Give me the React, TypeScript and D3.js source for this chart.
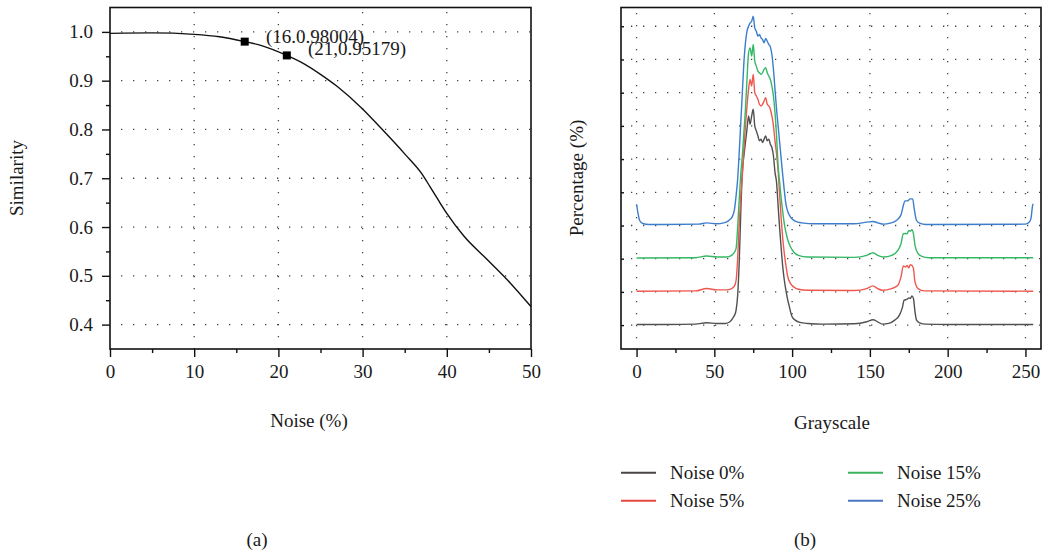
import React, { useEffect, useRef } from 'react'
import * as d3 from 'd3'

// (a) similarity vs noise
const noiseLevels = [0, 5, 10, 13, 16, 18, 21, 23, 25, 27, 30, 32, 35, 37, 38, 39, 40, 42, 45, 47.5, 50]
const similarity = [0.997, 0.998, 0.995, 0.99, 0.98004, 0.972, 0.95179, 0.935, 0.913, 0.888, 0.842, 0.806, 0.75, 0.71, 0.683, 0.655, 0.628, 0.582, 0.53, 0.486, 0.437]
const markedNoise = [16, 21]
const markedSim = [0.98004, 0.95179]
const markLabels = ['(16.0.98004)', '(21,0.95179)']

// (b) grayscale histograms, each stacked one tick above the previous
const seriesNames = ['Noise 0%', 'Noise 5%', 'Noise 15%', 'Noise 25%']
const seriesColors = ['#505050', '#f0584e', '#34b866', '#3c7dcc']
const legendColors = ['#4a4547', '#e5473f', '#3bb35c', '#4a77c0']
const seriesOffsets = [0, 1, 2, 3]

const noise0: [number, number][] = [
  [0, 0.02], [20, 0.02], [38, 0.03], [45, 0.07], [52, 0.05], [57, 0.05], [60, 0.1], [62, 0.22], [63, 0.3], [64, 0.45],
  [65, 0.9], [66, 1.9], [67, 3.4], [68, 4.6], [69, 5.1], [70, 5.5], [71, 5.9], [72, 6.3], [73, 6.05], [74, 6.3],
  [75, 6.5], [76, 6.0], [77, 5.85], [78, 5.7], [79, 5.55], [80, 5.6], [81, 5.5], [82, 5.6], [83, 5.7], [84, 5.55],
  [85, 5.6], [86, 5.45], [87, 5.35], [88, 5.1], [89, 4.6], [90, 4.3], [91, 3.6], [92, 2.9], [93, 2.3], [94, 1.75],
  [95, 1.35], [96, 1.05], [97, 0.8], [98, 0.6], [99, 0.4], [100, 0.25], [102, 0.15], [105, 0.08], [110, 0.05],
  [120, 0.03], [140, 0.04], [148, 0.1], [152, 0.16], [155, 0.1], [158, 0.03], [162, 0.05], [166, 0.15], [169, 0.3],
  [171, 0.55], [172, 0.75], [174, 0.78], [175, 0.82], [176, 0.8], [177, 0.88], [178, 0.8], [179, 0.4], [180, 0.15],
  [182, 0.07], [186, 0.03], [200, 0.02], [255, 0.02],
]
const noise5: [number, number][] = [
  [0, 0.02], [38, 0.03], [45, 0.1], [52, 0.06], [58, 0.06], [61, 0.1], [63, 0.18], [64, 0.35], [65, 1.0], [66, 2.05],
  [67, 2.9], [68, 3.5], [69, 4.3], [70, 5.0], [71, 5.6], [72, 6.1], [73, 6.4], [74, 6.2], [75, 6.55], [76, 6.0],
  [77, 5.9], [78, 5.8], [79, 5.65], [80, 5.6], [81, 5.65], [82, 5.75], [83, 5.85], [84, 5.65], [85, 5.6], [86, 5.5],
  [87, 5.3], [88, 5.0], [89, 4.55], [90, 4.15], [91, 3.65], [92, 2.9], [93, 2.2], [94, 1.6], [95, 1.15], [96, 0.8],
  [97, 0.5], [99, 0.25], [101, 0.15], [104, 0.08], [110, 0.05], [140, 0.04], [148, 0.1], [152, 0.18], [155, 0.1],
  [158, 0.05], [164, 0.1], [168, 0.2], [170, 0.45], [171.5, 0.78], [173, 0.75], [174, 0.8], [175, 0.72], [176, 0.82],
  [177, 0.8], [178, 0.7], [179, 0.3], [181, 0.1], [185, 0.03], [255, 0.02],
]
const noise15: [number, number][] = [
  [0, 0.02], [38, 0.03], [45, 0.08], [52, 0.05], [58, 0.05], [61, 0.1], [63, 0.2], [64, 0.31], [65, 0.95], [66, 1.8],
  [67, 2.55], [68, 3.1], [69, 3.8], [70, 4.5], [71, 5.4], [72, 6.2], [73, 6.35], [74, 6.1], [75, 6.45], [76, 5.95],
  [77, 5.8], [78, 5.65], [79, 5.6], [80, 5.55], [81, 5.6], [82, 5.7], [83, 5.75], [84, 5.6], [85, 5.5], [86, 5.4],
  [87, 5.2], [88, 4.9], [89, 4.4], [90, 3.7], [91, 2.8], [92, 2.3], [93, 1.8], [94, 1.4], [95, 1.05], [96, 0.8],
  [97, 0.6], [99, 0.35], [101, 0.2], [104, 0.1], [110, 0.05], [140, 0.04], [148, 0.1], [152, 0.18], [155, 0.1],
  [159, 0.05], [164, 0.1], [168, 0.25], [170, 0.45], [171.5, 0.75], [173, 0.76], [174, 0.75], [175, 0.85], [176, 0.83],
  [177, 0.87], [178, 0.75], [179, 0.4], [181, 0.15], [183, 0.08], [188, 0.03], [255, 0.03],
]
const noise25: [number, number][] = [
  [0, 0.64], [1, 0.35], [2, 0.15], [4, 0.06], [8, 0.03], [40, 0.04], [45, 0.08], [52, 0.05], [56, 0.08], [58, 0.11],
  [60, 0.18], [61.5, 0.26], [63, 0.5], [64, 0.9], [65, 1.4], [66, 2.2], [67, 3.1], [68, 4.0], [69, 4.9], [70, 5.5],
  [71, 5.85], [72, 6.0], [73, 6.1], [74, 6.15], [75, 6.3], [76, 5.95], [77, 5.85], [78, 5.7], [79, 5.75], [80, 5.65],
  [81, 5.6], [82, 5.5], [83, 5.63], [84, 5.55], [85, 5.45], [86, 5.38], [87, 5.15], [88, 4.7], [89, 4.1], [90, 3.5],
  [91, 3.0], [92, 2.5], [93, 2.0], [94, 1.5], [95, 1.05], [96, 0.65], [97, 0.45], [99, 0.25], [102, 0.13], [106, 0.08],
  [115, 0.05], [140, 0.05], [148, 0.1], [152, 0.12], [155, 0.08], [159, 0.04], [163, 0.07], [167, 0.15], [170, 0.32],
  [171.5, 0.6], [172.5, 0.74], [174, 0.74], [176, 0.8], [177.5, 0.8], [178.5, 0.5], [180, 0.15], [182, 0.07], [186, 0.03],
  [250, 0.04], [252, 0.08], [253.5, 0.2], [254.6, 0.6], [255, 0.65],
]
const histograms = [noise0, noise5, noise15, noise25]

const FONT = '"Liberation Serif", "Times New Roman", serif'
const FS = 19

export default function App() {
  const ref = useRef<SVGSVGElement>(null)

  useEffect(() => {
    const svg = d3.select(ref.current)
    svg.selectAll('*').remove()

    const dotted = (g: any) =>
      g.attr('stroke', '#444').attr('stroke-width', 1.3).attr('stroke-dasharray', '1.3 10.7').attr('fill', 'none')
    const label = (g: any, x: number, y: number, t: string, anchor = 'start') =>
      g.append('text').attr('x', x).attr('y', y).attr('text-anchor', anchor).text(t)
        .attr('font-size', FS).attr('font-family', FONT).attr('fill', '#1a1a1a')

    // ---------- (a) ----------
    const xL = d3.scaleLinear().domain([0, 50]).range([110, 531])
    const yL = d3.scaleLinear().domain([0.35, 1.05]).range([349, 7.5])
    const a = svg.append('g')

    const gridA = a.append('g')
    gridA.selectAll('line.h').data([0.4, 0.5, 0.6, 0.7, 0.8, 0.9, 1.0]).enter().append('line')
      .attr('x1', 121).attr('x2', 531).attr('y1', d => yL(d)).attr('y2', d => yL(d))
      .call(dotted)
    gridA.selectAll('line.v').data([10, 20, 30, 40]).enter().append('line')
      .attr('x1', d => xL(d)).attr('x2', d => xL(d)).attr('y1', 12).attr('y2', 349)
      .call(dotted)

    a.append('g').attr('transform', 'translate(0,349)')
      .call(d3.axisBottom(xL).tickValues([0, 10, 20, 30, 40, 50]).tickSize(8).tickPadding(8).tickFormat(d3.format('d')))
    a.append('g').attr('transform', 'translate(0,349)')
      .call(d3.axisBottom(xL).tickValues([5, 15, 25, 35, 45]).tickSize(4).tickFormat(() => ''))
    a.append('g').attr('transform', 'translate(110,0)')
      .call(d3.axisLeft(yL).tickValues([0.4, 0.5, 0.6, 0.7, 0.8, 0.9, 1.0]).tickSize(8).tickPadding(9).tickFormat(d3.format('.1f')))
    a.append('g').attr('transform', 'translate(110,0)')
      .call(d3.axisLeft(yL).tickValues([0.45, 0.55, 0.65, 0.75, 0.85, 0.95]).tickSize(4).tickFormat(() => ''))

    a.append('rect').attr('x', 110).attr('y', 7.5).attr('width', 421).attr('height', 341.5)
      .attr('fill', 'none').attr('stroke', '#111').attr('stroke-width', 1.6)

    const simLine = d3.line<number>().x((_, i) => xL(noiseLevels[i])).y(d => yL(d)).curve(d3.curveMonotoneX)
    a.append('path').attr('d', simLine(similarity)).attr('fill', 'none').attr('stroke', '#111').attr('stroke-width', 1.4)

    a.selectAll('rect.mk').data(markedNoise).enter().append('rect')
      .attr('x', d => xL(d) - 4).attr('y', (_, i) => yL(markedSim[i]) - 4).attr('width', 8).attr('height', 8).attr('fill', '#000')
    label(a, 266, 43, markLabels[0])
    label(a, 308, 55, markLabels[1])

    a.append('text').attr('transform', 'translate(23,178) rotate(-90)').attr('text-anchor', 'middle')
      .text('Similarity').attr('font-size', FS).attr('font-family', FONT).attr('fill', '#1a1a1a')
    label(a, 309, 427, 'Noise (%)', 'middle')
    label(a, 257, 546, '(a)', 'middle')

    // ---------- (b) ----------
    const xR = d3.scaleLinear().domain([-10, 260]).range([621, 1041])
    const yR = d3.scaleLinear().domain([-0.72, 9.55]).range([349, 8])
    const b = svg.append('g')
    const levels = d3.range(0, 10)

    const gridB = b.append('g')
    gridB.selectAll('line.h').data(levels).enter().append('line')
      .attr('x1', 631).attr('x2', 1041).attr('y1', d => yR(d)).attr('y2', d => yR(d))
      .call(dotted)
    gridB.selectAll('line.v').data([0, 50, 100, 150, 200, 250]).enter().append('line')
      .attr('x1', d => xR(d)).attr('x2', d => xR(d)).attr('y1', 13).attr('y2', 349)
      .call(dotted)

    b.append('g').attr('transform', 'translate(0,349)')
      .call(d3.axisBottom(xR).tickValues([0, 50, 100, 150, 200, 250]).tickSize(8).tickPadding(8).tickFormat(d3.format('d')))
    b.append('g').attr('transform', 'translate(0,349)')
      .call(d3.axisBottom(xR).tickValues([25, 75, 125, 175, 225]).tickSize(4).tickFormat(() => ''))
    b.append('g').attr('transform', 'translate(621,0)')
      .call(d3.axisRight(yR).tickValues(levels).tickSize(3).tickFormat(() => ''))

    b.append('rect').attr('x', 621).attr('y', 7.5).attr('width', 420).attr('height', 341.5)
      .attr('fill', 'none').attr('stroke', '#111').attr('stroke-width', 1.6)

    const histLine = (off: number) =>
      d3.line<[number, number]>().x(d => xR(d[0])).y(d => yR(d[1] + off)).curve(d3.curveMonotoneX)
    histograms.forEach((h, i) => {
      b.append('path').attr('d', histLine(seriesOffsets[i])(h)).attr('fill', 'none')
        .attr('stroke', seriesColors[i]).attr('stroke-width', 1.4).attr('stroke-linejoin', 'round')
    })

    b.append('text').attr('transform', 'translate(583,178) rotate(-90)').attr('text-anchor', 'middle')
      .text('Percentage (%)').attr('font-size', FS).attr('font-family', FONT).attr('fill', '#1a1a1a')
    label(b, 832, 429, 'Grayscale', 'middle')
    label(b, 805, 546, '(b)', 'middle')

    // legend: two columns
    const legendPos = [[621, 472.7], [621, 500.7], [848, 472.7], [848, 500.7]]
    const lg = b.append('g')
    seriesNames.forEach((name, i) => {
      const [lx, ly] = legendPos[i]
      lg.append('line').attr('x1', lx).attr('x2', lx + 35).attr('y1', ly).attr('y2', ly)
        .attr('stroke', legendColors[i]).attr('stroke-width', 2)
      label(lg, lx + 49, ly + 6.5, name)
    })

    // axis styling
    svg.selectAll('.domain').remove()
    svg.selectAll('.tick line').attr('stroke', '#111').attr('stroke-width', 1.4)
    svg.selectAll('.tick text').attr('font-size', FS).attr('font-family', FONT).attr('fill', '#1a1a1a')
  }, [])

  return (
    <svg ref={ref} width={1043} height={554} style={{ position: 'absolute', left: 0, top: 0, background: '#fff' }} />
  )
}
